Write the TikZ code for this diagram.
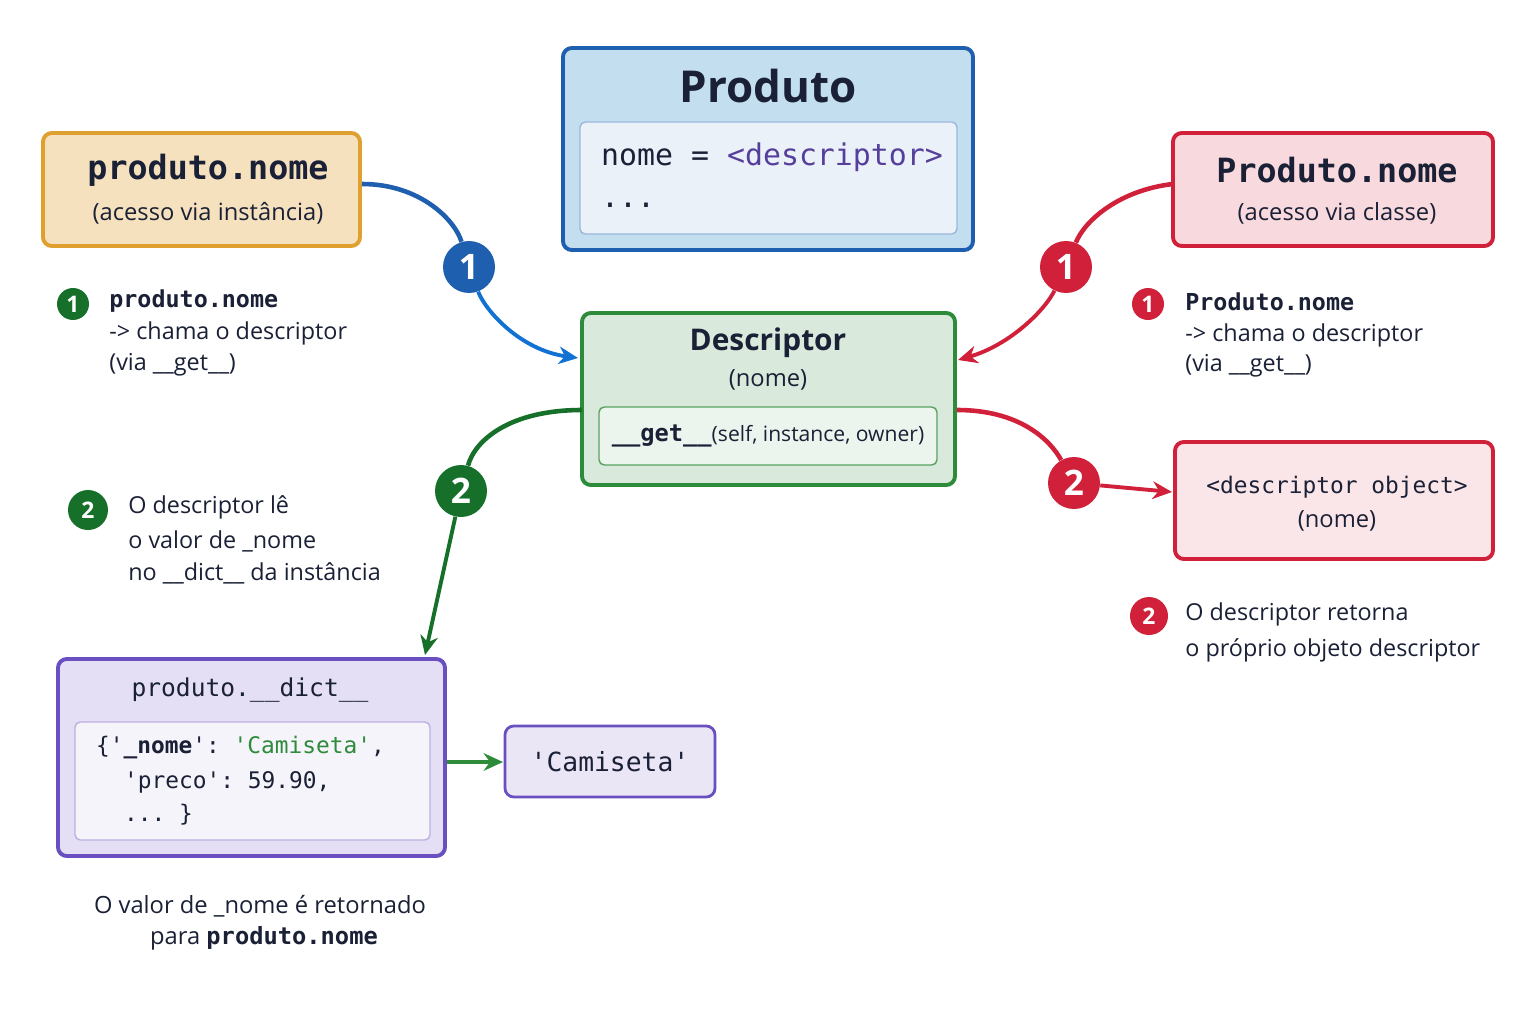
\documentclass[tikz,border=0pt]{standalone}
\usepackage{fontspec}
\setmainfont{Open Sans}
\setmonofont{DejaVu Sans Mono}
\usetikzlibrary{arrows.meta}
\definecolor{bl}{HTML}{1F5FB0}
\definecolor{rd}{HTML}{D0203A}
\definecolor{gr}{HTML}{2E8B3A}
\definecolor{dg}{HTML}{16702A}
\definecolor{pu}{HTML}{6A4FC0}
\definecolor{og}{HTML}{E0A030}
\definecolor{tx}{HTML}{1A2035}
\tikzset{
 box/.style={draw=#1,line width=2.2pt,rounded corners=5pt},
 inbox/.style={draw=#1,line width=0.8pt,rounded corners=3pt},
 badge/.style={circle,fill=#1,text=white,minimum size=52*0.02cm,inner sep=0pt,font=\bfseries\fontsize{20}{20}\selectfont},
 sbadge/.style={circle,fill=#1,text=white,minimum size=32*0.02cm,inner sep=0pt,font=\bfseries\fontsize{13}{13}\selectfont},
 conn/.style={draw=#1,line width=2.2pt,-{Stealth[length=11pt,width=10pt]}},
 ann/.style={anchor=west,text=tx,font=\fontsize{13.3}{15}\selectfont,inner sep=0pt},
}
\begin{document}
\begin{tikzpicture}[x=0.02cm,y=-0.02cm,text=tx]
\useasboundingbox[fill=white] (0,0) rectangle (1536,1024);
% Produto
\draw[box=bl,fill=bl!22!white!95!cyan] (563,48) rectangle (973,250);
\draw[inbox=bl!45,fill=bl!9] (580,122) rectangle (957,234);
\node (prod) at (768,86) {\bfseries\fontsize{25}{25}\selectfont Produto};
\node[anchor=west] (pn) at (595,157) {\ttfamily\fontsize{17}{17}\selectfont nome = \textcolor{pu!80!black}{<descriptor>}};
\node[anchor=west] at (595,205) {\ttfamily\fontsize{17}{17}\selectfont ...};
% produto.nome
\draw[box=og,fill=og!32] (43,133) rectangle (360,246);
\node at (208,170) {\ttfamily\bfseries\fontsize{19}{19}\selectfont produto.nome};
\node at (208,213) {\fontsize{13.5}{14}\selectfont (acesso via instância)};
% Produto.nome
\draw[box=rd,fill=rd!17] (1173,133) rectangle (1493,246);
\node at (1337,170) {\ttfamily\bfseries\fontsize{19}{19}\selectfont Produto.nome};
\node at (1337,213) {\fontsize{13.5}{14}\selectfont (acesso via classe)};
% Descriptor
\draw[box=gr,fill=gr!18] (582,313) rectangle (955,485);
\draw[inbox=gr!80,fill=gr!9] (599,407) rectangle (937,465);
\node at (768,343) {\bfseries\fontsize{17}{17}\selectfont Descriptor};
\node at (768,380) {\fontsize{13.5}{14}\selectfont (nome)};
\node at (768,436) {\ttfamily\bfseries\fontsize{13.5}{14}\selectfont \_\_get\_\_\rmfamily\mdseries\fontsize{12}{14}\selectfont(self, instance, owner)};
% descriptor object
\draw[box=rd,fill=rd!11] (1175,442) rectangle (1493,559);
\node at (1337,487) {\ttfamily\fontsize{13}{13}\selectfont <descriptor object>};
\node at (1337,521) {\fontsize{13.5}{14}\selectfont (nome)};
% dict
\draw[box=pu,fill=pu!18] (58,659) rectangle (445,856);
\draw[inbox=pu!45,fill=pu!6] (75,722) rectangle (430,840);
\node at (250,690) {\ttfamily\fontsize{14}{14}\selectfont produto.\_\_dict\_\_};
\node[anchor=west] at (90,748) {\ttfamily\fontsize{13}{13}\selectfont \{'\textbf{\_nome}': \textcolor{gr}{'Camiseta'},};
\node[anchor=west] at (118,782) {\ttfamily\fontsize{13}{13}\selectfont 'preco': 59.90,};
\node[anchor=west] at (118,815) {\ttfamily\fontsize{13}{13}\selectfont ... \}};
\draw[box=pu,fill=pu!14,line width=1.6pt] (505,726) rectangle (715,797);
\node at (610,762) {\ttfamily\fontsize{15}{15}\selectfont 'Camiseta'};
% connectors
\coordinate (b1s) at (362,184); \coordinate (b1e) at (578,358);
\node[badge=bl] (B1) at (469,267) {1};
\draw[line width=2.6pt,bl] (b1s) .. controls (420,184) and (455,220) .. (B1);
\draw[conn=bl!70!cyan!80!blue] (B1) .. controls (485,310) and (520,350) .. (b1e);
\coordinate (r1s) at (1173,184); \coordinate (r1e) at (958,360);
\node[badge=rd] (R1) at (1066,267) {1};
\draw[line width=2.6pt,rd] (r1s) .. controls (1120,190) and (1085,220) .. (R1);
\draw[conn=rd] (R1) .. controls (1045,310) and (1010,345) .. (r1e);
\coordinate (g2s) at (582,410); \coordinate (g2e) at (425,655);
\node[badge=dg] (G2) at (461,491) {2};
\draw[line width=2.6pt,dg] (g2s) .. controls (510,410) and (475,440) .. (G2);
\draw[conn=dg] (G2) -- (g2e);
\coordinate (r2s) at (957,410); \coordinate (r2e) at (1172,492);
\node[badge=rd] (R2) at (1074,483) {2};
\draw[line width=2.6pt,rd] (r2s) .. controls (1020,410) and (1050,440) .. (R2);
\draw[conn=rd] (R2) -- (r2e);
\coordinate (ds) at (447,762); \coordinate (de) at (503,762);
\draw[conn=gr,line width=2pt] (ds) -- (de);
% annotations
\node[sbadge=dg] at (73,304) {1};
\node[ann] at (109,301) {\ttfamily\bfseries produto.nome};
\node[ann] at (109,333) {-> chama o descriptor};
\node[ann] at (109,365) {(via \_\_get\_\_)};
\node[sbadge=dg,minimum size=40*0.02cm] at (88,510) {2};
\node[ann] at (128,507) {O descriptor lê};
\node[ann] at (128,541) {o valor de \_nome};
\node[ann] at (128,573) {no \_\_dict\_\_ da instância};
\node[sbadge=rd] at (1148,304) {1};
\node[ann] at (1185,302) {\ttfamily\bfseries Produto.nome};
\node[ann] at (1185,335) {-> chama o descriptor};
\node[ann] at (1185,366) {(via \_\_get\_\_)};
\node[sbadge=rd,minimum size=38*0.02cm] at (1149,616) {2};
\node[ann] at (1185,614) {O descriptor retorna};
\node[ann] at (1185,650) {o próprio objeto descriptor};
\node[font=\fontsize{13.5}{15}\selectfont] at (260,906) {O valor de \_nome é retornado};
\node[font=\fontsize{13.5}{15}\selectfont] at (264,938) {para \texttt{\bfseries produto.nome}};
\end{tikzpicture}
\end{document}
